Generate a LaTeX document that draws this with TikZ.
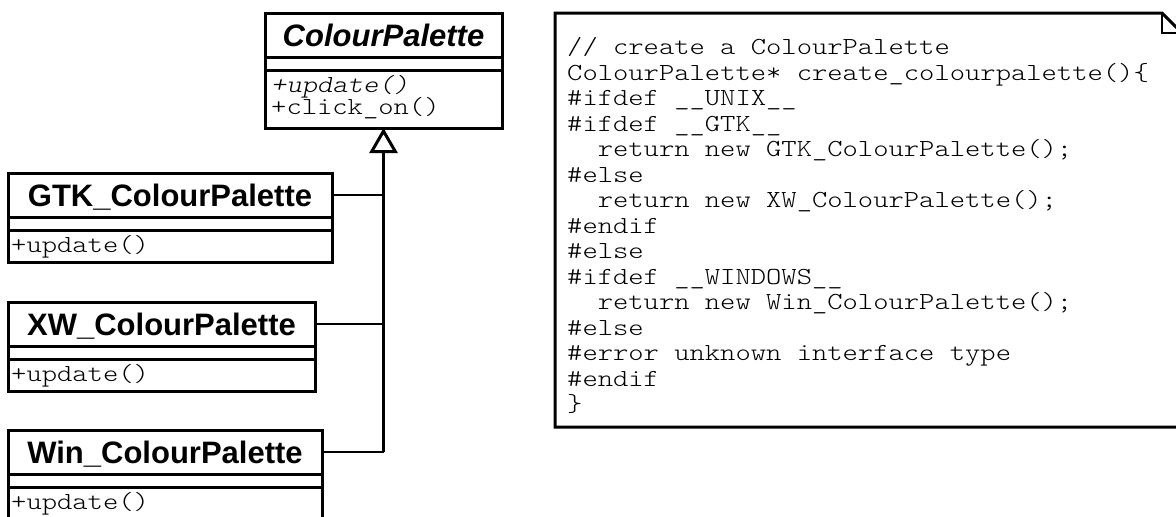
\documentclass[tikz,border=0pt]{standalone}
\usepackage{fontspec}
\setmainfont{Liberation Sans}
\newfontfamily\codefont{lmmonolt10-regular.otf}[FakeStretch=1.19, ItalicFont=lmmonolt10-oblique.otf]
\usetikzlibrary{arrows.meta}

\tikzset{
  cell/.style={draw, line width=3pt, outer sep=0pt, inner sep=0pt, anchor=north},
  classname/.style={cell, minimum height=44pt, text height=23pt, text depth=0pt,
    font=\bfseries\fontsize{31}{31}\selectfont},
  attrcell/.style={cell, minimum height=13pt},
  opcell/.style={cell, minimum height=32pt},
  optext/.style={anchor=base west, inner sep=0pt, text height=16pt, text depth=4pt,
    font=\codefont\fontsize{24.5}{25.5}\selectfont},
  oplist/.style={anchor=north west, inner sep=0pt, align=left,
    font=\codefont\fontsize{24.5}{25.5}\selectfont},
  code/.style={anchor=north west, inner sep=0pt, align=left,
    font=\codefont\fontsize{24.5}{25.5}\selectfont},
  link/.style={line width=2pt},
  spine/.style={line width=3pt, -{Triangle[open, length=25pt, width=28pt]}},
  notebox/.style={line width=3pt, line join=miter},
  foldline/.style={line width=2pt},
}

\begin{document}
\begin{tikzpicture}[x=1pt, y=-1pt]
\fill[white] (0,0) rectangle (1176,517);
\useasboundingbox (0,0) rectangle (1176,517);
\clip (0,0) rectangle (1176,517);

% abstract base class
\node[classname, minimum width=237pt, anchor=north west,
      font=\bfseries\itshape\fontsize{31}{31}\selectfont] (cp) at (265,13) {ColourPalette};
\node[attrcell, minimum width=237pt] (cpattr) at (cp.south) {};
\node[opcell, minimum width=237pt, minimum height=58pt] (cpops) at (cpattr.south) {};
\node[oplist] (cpmethods) at ([xshift=6pt, yshift=-2pt]cpops.north west)
  {\rule{0pt}{20pt}\textit{+update()}\\[-3.5pt]+click\_on()};

% GTK implementation
\node[classname, minimum width=324pt, anchor=north west] (gtk) at (8,173) {GTK\_ColourPalette};
\node[attrcell, minimum width=324pt] (gtkattr) at (gtk.south) {};
\node[opcell, minimum width=324pt] (gtkops) at (gtkattr.south) {};
\node[optext] (gtkupdate) at ([xshift=3pt, yshift=-22pt]gtkops.north west) {+update()};

% X Window implementation
\node[classname, minimum width=307pt, anchor=north west] (xw) at (8,302) {XW\_ColourPalette};
\node[attrcell, minimum width=307pt] (xwattr) at (xw.south) {};
\node[opcell, minimum width=307pt] (xwops) at (xwattr.south) {};
\node[optext] (xwupdate) at ([xshift=3pt, yshift=-22pt]xwops.north west) {+update()};

% Windows implementation
\node[classname, minimum width=314pt, anchor=north west] (win) at (8,430) {Win\_ColourPalette};
\node[attrcell, minimum width=314pt] (winattr) at (win.south) {};
\node[opcell, minimum width=314pt] (winops) at (winattr.south) {};
\node[optext] (winupdate) at ([xshift=3pt, yshift=-22pt]winops.north west) {+update()};

% generalisation connectors
\coordinate (join) at (win.east -| cpops.south);
\draw[link] (gtk.east) -- (gtk.east -| join);
\draw[link] (xw.east) -- (xw.east -| join);
\draw[link] (win.east) -- (join);
\draw[spine] (join) -- (cpops.south);

% note with the factory function
\node[minimum width=627pt, minimum height=414pt, anchor=north west,
      inner sep=0pt, outer sep=0pt] (note) at (555,13) {};
\coordinate (fold) at ([xshift=-20pt]note.north east);
\coordinate (foldend) at ([yshift=-20pt]note.north east);
\draw[notebox] (note.north west) -- (fold) -- (foldend) -- (note.south east)
  -- (note.south west) -- cycle;
\draw[foldline] (fold) |- (foldend);

\node[code] (code) at (567,34.5) {\rule{0pt}{20pt}// create a ColourPalette\\
ColourPalette* create\_colourpalette()\{\\
\#ifdef \_\_UNIX\_\_\\
\#ifdef \_\_GTK\_\_\\
\phantom{xx}return new GTK\_ColourPalette();\\
\#else\\
\phantom{xx}return new XW\_ColourPalette();\\
\#endif\\
\#else\\
\#ifdef \_\_WINDOWS\_\_\\
\phantom{xx}return new Win\_ColourPalette();\\
\#else\\
\#error unknown interface type\\
\#endif\\
\}};
\end{tikzpicture}
\end{document}
